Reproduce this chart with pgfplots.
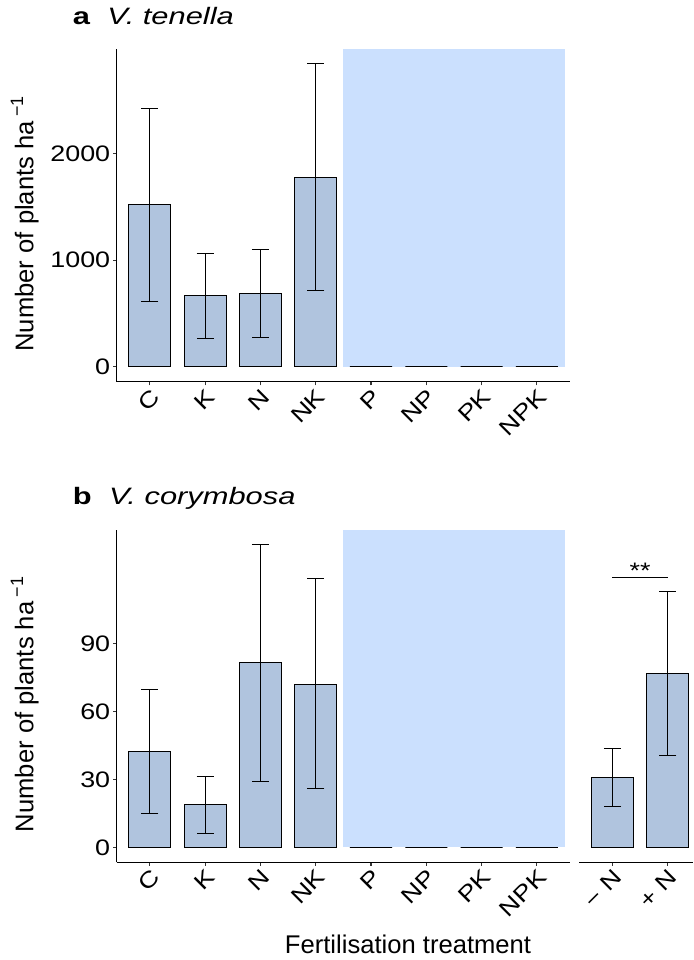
\documentclass[border=0pt]{standalone}
\usepackage{fontspec}
\setmainfont{Liberation Sans}
\newfontfamily\tickfnt[FakeStretch=1.2]{Liberation Sans}
\newfontfamily\titlefnt[FakeStretch=1.3]{Liberation Sans}
\usepackage{pgfplots}
\pgfplotsset{compat=1.18}
\usepackage{pgfplotstable}
\definecolor{barfill}{RGB}{176,196,222}
\definecolor{shade}{RGB}{203,224,254}

\pgfplotstableread{
x y ep em
1 1518 905 911
2 664 401 397
3 689 410 413
4 1775 1067 1058
5 0 0 0
6 0 0 0
7 0 0 0
8 0 0 0
}\tenella

\pgfplotstableread{
x y ep em
1 42.5 27.2 27.7
2 18.7 12.6 12.5
3 81.4 52.3 52.2
4 72.0 46.5 46.1
5 0 0 0
6 0 0 0
7 0 0 0
8 0 0 0
}\corymbosa

\pgfplotstableread{
x y ep em
1 30.7 12.7 12.8
2 76.8 36.0 36.1
}\nitrogen

\pgfplotsset{
  panel/.style={
    scale only axis,
    enlargelimits=false,
    axis x line*=bottom,
    axis line style={-, line width=0.8pt, black!85},
    every outer x axis line/.style={},
    every outer y axis line/.style={},
    tick align=outside,
    major tick length=2.7pt,
    tick style={line width=0.8pt, black!80},
    tick label style={black},
    xticklabel style={font=\tickfnt\fontsize{16.8}{18}\selectfont, rotate=45, anchor=north east, inner sep=1pt},
    yticklabel style={font=\tickfnt\fontsize{16.8}{18}\selectfont, inner sep=2pt},
    label style={font=\fontsize{19.2}{22}\selectfont},
    title style={at={(axis description cs:-0.097,1.0518)}, anchor=base west, inner sep=0pt, font=\titlefnt\fontsize{17.8}{20}\selectfont},
  },
  bars/.style={ybar, bar width=0.76, fill=barfill, draw=black, line width=0.75pt,
    error bars/.cd, y dir=both, y explicit,
    error bar style={line width=0.75pt, black},
    error mark options={rotate=90, black, line width=0.75pt, mark size=6.4pt}},
}

\begin{document}
\begin{tikzpicture}
\path[use as bounding box] (0,0) rectangle (519.75pt,720pt);

% Panel a
\begin{axis}[panel,
  at={(87.525pt,433.725pt)}, anchor=south west,
  width=340pt, height=249.15pt,
  axis y line*=left,
  xmin=0.4, xmax=8.6, ymin=-142, ymax=2978,
  xtick={1,...,8}, xticklabels={C,K,N,NK,P,NP,PK,NPK},
  ytick={0,1000,2000}, yticklabels={0,1000,2000},
  ylabel={Number of plants ha\,\textsuperscript{−1}},
  ylabel style={at={(axis description cs:-0.184,0.476)}, anchor=base},
  title={{\bfseries a}\hspace{13pt}{\itshape V. tenella}},
]
\addplot[fill=shade, draw=none, forget plot] coordinates {(4.5,0) (4.5,2978) (8.5,2978) (8.5,0)} -- cycle;
\addplot[bars] table[x=x, y=y, y error plus=ep, y error minus=em] {\tenella};
\end{axis}

% Panel b (left)
\begin{axis}[panel,
  at={(87.525pt,73.275pt)}, anchor=south west,
  width=340pt, height=249.2pt,
  axis y line*=left,
  xmin=0.4, xmax=8.6, ymin=-6.6, ymax=140.0,
  xtick={1,...,8}, xticklabels={C,K,N,NK,P,NP,PK,NPK},
  ytick={0,30,60,90}, yticklabels={0,30,60,90},
  ylabel={Number of plants ha\,\textsuperscript{−1}},
  ylabel style={at={(axis description cs:-0.184,0.476)}, anchor=base},
  xlabel={Fertilisation treatment},
  xlabel style={at={(axis description cs:0.6426,-0.273)}, anchor=base},
  title={{\bfseries b}\hspace{13pt}{\itshape V. corymbosa}},
]
\addplot[fill=shade, draw=none, forget plot] coordinates {(4.5,0) (4.5,140) (8.5,140) (8.5,0)} -- cycle;
\addplot[bars] table[x=x, y=y, y error plus=ep, y error minus=em] {\corymbosa};
\end{axis}

% Panel b (right)
\begin{axis}[panel,
  at={(434.475pt,73.275pt)}, anchor=south west,
  width=85.3pt, height=249.2pt,
  axis y line=none,
  xmin=0.4, xmax=2.456, ymin=-6.6, ymax=140.0,
  xtick={1,2}, xticklabels={−\ N,+\ N},
  ytick=\empty,
  clip=false,
]
\addplot[bars] table[x=x, y=y, y error plus=ep, y error minus=em] {\nitrogen};
\addplot[black, line width=0.75pt, forget plot] coordinates {(1,119.2) (2,119.2)};
\node[anchor=base, font=\tickfnt\fontsize{16.8}{18}\selectfont, inner sep=0pt] at (axis cs:1.5,118.5) {**};
\end{axis}
\end{tikzpicture}
\end{document}
